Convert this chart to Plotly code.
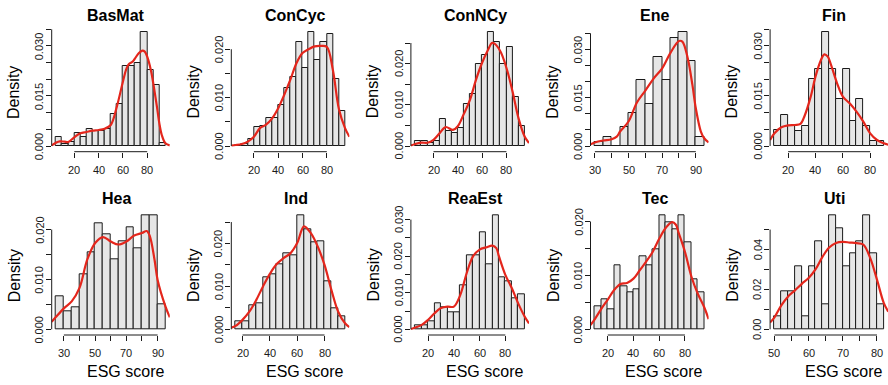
import plotly.graph_objects as go

W, H = 888, 385
FONT = "Liberation Sans, Arial, Helvetica, sans-serif"

# ---------------- data ----------------
names = ["BasMat", "ConCyc", "ConNCy", "Ene", "Fin", "Hea", "Ind", "ReaEst", "Tec", "Uti"]

# BasMat
basmat_start, basmat_width = 5, 5
basmat_density = [0.0026, 0.0006, 0.0011, 0.0040, 0.0026, 0.0050, 0.0045, 0.0045, 0.0051,
                  0.0096, 0.0126, 0.0239, 0.0241, 0.0249, 0.0341, 0.0228, 0.0182, 0.0010]
basmat_kx = [1.4, 5, 8, 12, 15, 20, 25, 30, 35, 40, 45, 50, 55, 60, 63, 65, 68, 70, 73, 76, 78, 80, 83, 85, 88, 90, 92, 95, 98.6]
basmat_ky = [0.0002, 0.0010, 0.0014, 0.0013, 0.0012, 0.0026, 0.0038, 0.0042, 0.0046, 0.0048, 0.0052,
             0.0063, 0.0118, 0.0193, 0.0233, 0.0246, 0.0253, 0.0263, 0.0278, 0.0286, 0.0283, 0.0268,
             0.0228, 0.0188, 0.0118, 0.0068, 0.0033, 0.0008, 0.0002]
basmat_xticks = [20, 40, 60, 80]
basmat_xlabels = ["20", "40", "60", "80"]
basmat_yticks = [0, 0.005, 0.010, 0.015, 0.020, 0.025, 0.030, 0.035]
basmat_ylabels = ["0.000", "", "", "0.015", "", "", "0.030", ""]

# ConCyc
concyc_start, concyc_width = 5, 5
concyc_density = [0.0003, 0.0005, 0.0015, 0.0039, 0.0042, 0.0058, 0.0058, 0.0085, 0.0119,
                  0.0142, 0.0215, 0.0161, 0.0235, 0.0177, 0.0215, 0.0231, 0.0138, 0.0073]
concyc_kx = [1.4, 5, 10, 15, 20, 25, 30, 35, 40, 45, 50, 55, 60, 65, 70, 75, 80, 85, 90, 95, 98.6]
concyc_ky = [0.0001, 0.0002, 0.0004, 0.0009, 0.0019, 0.0037, 0.0044, 0.0057, 0.0078, 0.0106, 0.0137,
             0.0171, 0.0192, 0.0200, 0.0206, 0.0207, 0.0205, 0.0157, 0.0076, 0.0037, 0.0019]
concyc_xticks = [20, 40, 60, 80]
concyc_xlabels = ["20", "40", "60", "80"]
concyc_yticks = [0, 0.005, 0.010, 0.015, 0.020]
concyc_ylabels = ["0.000", "", "0.010", "", "0.020"]

# ConNCy
concny_start, concny_width = 5, 5
concny_density = [0.0011, 0.0011, 0.0008, 0.0011, 0.0066, 0.0037, 0.0031, 0.0043, 0.0102,
                  0.0126, 0.0198, 0.0222, 0.0276, 0.0253, 0.0198, 0.0240, 0.0120, 0.0049]
concny_kx = [1.4, 5, 10, 15, 20, 25, 30, 36, 40, 45, 50, 55, 60, 65, 68, 70, 75, 80, 85, 90, 95, 98.6]
concny_ky = [0.0001, 0.0005, 0.0008, 0.0008, 0.0015, 0.0031, 0.0046, 0.0039, 0.0048, 0.0078, 0.0112,
             0.0161, 0.0202, 0.0234, 0.0250, 0.0249, 0.0230, 0.0190, 0.0133, 0.0067, 0.0023, 0.0007]
concny_xticks = [20, 40, 60, 80]
concny_xlabels = ["20", "40", "60", "80"]
concny_yticks = [0, 0.005, 0.010, 0.015, 0.020, 0.025]
concny_ylabels = ["0.000", "", "0.010", "", "0.020", ""]

# Ene
ene_start, ene_width = 30, 5
ene_density = [0.0013, 0.0029, 0.0, 0.0058, 0.0101, 0.0205, 0.0131, 0.0277, 0.0205,
               0.0336, 0.0353, 0.0263, 0.0029]
ene_kx = [27.4, 30, 35, 40, 43, 45, 50, 55, 60, 65, 70, 75, 80, 82, 85, 88, 90, 93, 95, 97.6]
ene_ky = [0.0005, 0.0011, 0.0017, 0.0021, 0.0029, 0.0045, 0.0076, 0.0135, 0.0172, 0.0210, 0.0241,
          0.0290, 0.0326, 0.0324, 0.0277, 0.0189, 0.0117, 0.0045, 0.0024, 0.0011]
ene_xticks = [30, 40, 50, 60, 70, 80, 90]
ene_xlabels = ["30", "", "50", "", "70", "", "90"]
ene_yticks = [0, 0.005, 0.010, 0.015, 0.020, 0.025, 0.030, 0.035]
ene_ylabels = ["0.000", "", "", "0.015", "", "", "0.030", ""]

# Fin
fin_start, fin_width = 10, 5
fin_density = [0.0048, 0.0093, 0.0060, 0.0046, 0.0061, 0.0200, 0.0231, 0.0341, 0.0231,
               0.0141, 0.0231, 0.0076, 0.0140, 0.0061, 0.0015, 0.0016]
fin_kx = [6.8, 10, 15, 20, 25, 29, 32, 36.5, 40, 44, 46.5, 49, 51, 55.8, 60, 65, 70, 75, 80, 85, 90, 93.2]
fin_ky = [0.0018, 0.0038, 0.0056, 0.0062, 0.0063, 0.0066, 0.0090, 0.0148, 0.0208, 0.0258, 0.0275,
          0.0268, 0.0248, 0.0188, 0.0148, 0.0128, 0.0103, 0.0073, 0.0038, 0.0018, 0.0008, 0.0004]
fin_xticks = [20, 40, 60, 80]
fin_xlabels = ["20", "40", "60", "80"]
fin_yticks = [0, 0.005, 0.010, 0.015, 0.020, 0.025, 0.030, 0.035]
fin_ylabels = ["0.000", "", "", "0.015", "", "", "0.030", ""]

# Hea
hea_start, hea_width = 25, 5
hea_density = [0.0067, 0.0037, 0.0045, 0.0111, 0.0155, 0.0213, 0.0191, 0.0140, 0.0177,
               0.0205, 0.0162, 0.0228, 0.0228, 0.0051]
hea_kx = [22.2, 25, 30, 35, 40, 45, 50, 55, 60, 65, 70, 75, 80, 83, 85, 88, 90, 95, 97.8]
hea_ky = [0.0015, 0.0025, 0.0042, 0.0056, 0.0083, 0.0140, 0.0173, 0.0185, 0.0176, 0.0170, 0.0176,
          0.0188, 0.0193, 0.0197, 0.0187, 0.0140, 0.0099, 0.0046, 0.0024]
hea_xticks = [30, 40, 50, 60, 70, 80, 90]
hea_xlabels = ["30", "", "50", "", "70", "", "90"]
hea_yticks = [0, 0.005, 0.010, 0.015, 0.020]
hea_ylabels = ["0.000", "", "0.010", "", "0.020"]

# Ind
ind_start, ind_width = 15, 5
ind_density = [0.0019, 0.0019, 0.0056, 0.0060, 0.0121, 0.0128, 0.0152, 0.0176, 0.0173,
               0.0265, 0.0234, 0.0202, 0.0205, 0.0111, 0.0050, 0.0030]
ind_kx = [11.8, 15, 20, 25, 30, 35, 40, 45, 50, 55, 60, 65, 70, 75, 80, 85, 90, 95, 98.2]
ind_ky = [0.0004, 0.0008, 0.0022, 0.0041, 0.0068, 0.0100, 0.0129, 0.0152, 0.0166, 0.0177, 0.0201,
          0.0240, 0.0224, 0.0193, 0.0150, 0.0092, 0.0041, 0.0014, 0.0005]
ind_xticks = [20, 40, 60, 80]
ind_xlabels = ["20", "40", "60", "80"]
ind_yticks = [0, 0.005, 0.010, 0.015, 0.020, 0.025]
ind_ylabels = ["0.000", "", "0.010", "", "0.020", ""]

# ReaEst
reaest_start, reaest_width = 10, 5
reaest_density = [0.0010, 0.0010, 0.0021, 0.0071, 0.0059, 0.0047, 0.0047, 0.0119, 0.0203,
                  0.0203, 0.0264, 0.0179, 0.0311, 0.0143, 0.0132, 0.0084, 0.0096]
reaest_kx = [6.6, 10, 15, 20, 25, 30, 35, 40, 45, 50, 55, 60, 65, 70, 73, 75, 80, 85, 90, 95, 98.4]
reaest_ky = [0.0001, 0.0005, 0.0012, 0.0026, 0.0044, 0.0058, 0.0062, 0.0062, 0.0094, 0.0154, 0.0200,
             0.0218, 0.0224, 0.0229, 0.0222, 0.0200, 0.0149, 0.0113, 0.0071, 0.0035, 0.0016]
reaest_xticks = [20, 40, 60, 80]
reaest_xlabels = ["20", "40", "60", "80"]
reaest_yticks = [0, 0.005, 0.010, 0.015, 0.020, 0.025, 0.030]
reaest_ylabels = ["0.000", "", "0.010", "", "0.020", "", "0.030"]

# Tec
tec_start, tec_width = 10, 5
tec_density = [0.0043, 0.0055, 0.0037, 0.0118, 0.0079, 0.0068, 0.0074, 0.0136, 0.0118,
               0.0149, 0.0211, 0.0199, 0.0186, 0.0211, 0.0161, 0.0093, 0.0068]
tec_kx = [6.6, 10, 15, 20, 25, 30, 35, 40, 45, 50, 55, 60, 65, 70, 73, 75, 80, 85, 90, 95, 98.4]
tec_ky = [0.0008, 0.0019, 0.0038, 0.0055, 0.0073, 0.0084, 0.0086, 0.0094, 0.0110, 0.0126, 0.0144,
          0.0168, 0.0188, 0.0199, 0.0194, 0.0180, 0.0144, 0.0098, 0.0066, 0.0041, 0.0019]
tec_xticks = [20, 40, 60, 80]
tec_xlabels = ["20", "40", "60", "80"]
tec_yticks = [0, 0.005, 0.010, 0.015, 0.020]
tec_ylabels = ["0.000", "", "0.010", "", "0.020"]

# Uti
uti_start, uti_width = 50, 2
uti_density = [0.0063, 0.0190, 0.0190, 0.0316, 0.0063, 0.0316, 0.0443, 0.0127, 0.0570,
               0.0506, 0.0316, 0.0380, 0.0443, 0.0570, 0.0380, 0.0127]
uti_kx = [48.7, 50, 52, 54, 56, 58, 60, 62, 64, 66, 68, 70, 72, 74, 76, 78, 80, 82, 83.3]
uti_ky = [0.0034, 0.0060, 0.0120, 0.0165, 0.0195, 0.0228, 0.0257, 0.0300, 0.0362, 0.0410, 0.0433,
          0.0438, 0.0435, 0.0432, 0.0425, 0.0358, 0.0249, 0.0131, 0.0089]
uti_xticks = [50, 55, 60, 65, 70, 75, 80]
uti_xlabels = ["50", "", "60", "", "70", "", "80"]
uti_yticks = [0, 0.01, 0.02, 0.03, 0.04, 0.05]
uti_ylabels = ["0.00", "", "0.02", "", "0.04", ""]

panels = [
    (basmat_start, basmat_width, basmat_density, basmat_kx, basmat_ky, basmat_xticks, basmat_xlabels, basmat_yticks, basmat_ylabels),
    (concyc_start, concyc_width, concyc_density, concyc_kx, concyc_ky, concyc_xticks, concyc_xlabels, concyc_yticks, concyc_ylabels),
    (concny_start, concny_width, concny_density, concny_kx, concny_ky, concny_xticks, concny_xlabels, concny_yticks, concny_ylabels),
    (ene_start, ene_width, ene_density, ene_kx, ene_ky, ene_xticks, ene_xlabels, ene_yticks, ene_ylabels),
    (fin_start, fin_width, fin_density, fin_kx, fin_ky, fin_xticks, fin_xlabels, fin_yticks, fin_ylabels),
    (hea_start, hea_width, hea_density, hea_kx, hea_ky, hea_xticks, hea_xlabels, hea_yticks, hea_ylabels),
    (ind_start, ind_width, ind_density, ind_kx, ind_ky, ind_xticks, ind_xlabels, ind_yticks, ind_ylabels),
    (reaest_start, reaest_width, reaest_density, reaest_kx, reaest_ky, reaest_xticks, reaest_xlabels, reaest_yticks, reaest_ylabels),
    (tec_start, tec_width, tec_density, tec_kx, tec_ky, tec_xticks, tec_xlabels, tec_yticks, tec_ylabels),
    (uti_start, uti_width, uti_density, uti_kx, uti_ky, uti_xticks, uti_xlabels, uti_yticks, uti_ylabels),
]

# ---------------- layout constants (pixels) ----------------
COL_STEP = 179.6
PLOT_L, PLOT_R = 51.7, 169.8
ROW_OFF = [0.0, 183.3]
AXIS_B, ZERO_Y, BAR_TOP = 151.7, 146.0, 32.3
PLOT_T = -2.0

BAR_FILL = "#e6e6e6"
EDGE = "#1a1a1a"
RED = "#e4261c"
TEXT = "#1a1a1a"

def px(x):
    return x / W

def py(y):
    return 1 - y / H

fig = go.Figure()
layout = dict(width=W, height=H, margin=dict(l=0, r=0, t=0, b=0),
              paper_bgcolor="white", plot_bgcolor="white", showlegend=False)
shapes, annots = [], []

for i, (start, bw, dens, kx, ky, xt, xl, yt, yl) in enumerate(panels):
    r, c = divmod(i, 5)
    off = ROW_OFF[r]
    O = c * COL_STEP
    L, R = O + PLOT_L, min(O + PLOT_R, W)
    B, Z, T = off + AXIS_B, off + ZERO_Y, max(off + PLOT_T, 0)
    n = len(dens)
    lo, hi = start, start + n * bw
    pad = 0.04 * (hi - lo)
    xr = [lo - pad, hi + pad]
    # scale R-like: tallest bar at fixed pixel
    M = max(dens)
    s = (ZERO_Y - BAR_TOP) / M
    yr = [-(B - Z) / s, (Z - T) / s]
    # adjust x range for clipped right edge
    full_w = PLOT_R - PLOT_L
    if R < O + PLOT_R:
        xr = [xr[0], xr[0] + (xr[1] - xr[0]) * (R - L) / full_w]

    sfx = "" if i == 0 else str(i + 1)
    centers = [start + (k + 0.5) * bw for k in range(n)]
    fig.add_trace(go.Bar(x=centers, y=dens, width=[bw] * n,
                         marker=dict(color=BAR_FILL, line=dict(color=EDGE, width=1)),
                         xaxis="x" + sfx, yaxis="y" + sfx, hoverinfo="skip"))
    fig.add_trace(go.Scatter(x=kx, y=ky, mode="lines",
                             line=dict(color=RED, width=2.2, shape="spline", smoothing=1.0),
                             xaxis="x" + sfx, yaxis="y" + sfx, hoverinfo="skip"))

    layout["xaxis" + sfx] = dict(domain=[px(L), px(R)], range=xr, anchor="y" + sfx,
                                 showgrid=False, zeroline=False, showline=False,
                                 tickvals=xt, ticks="outside", ticklen=5, tickwidth=1,
                                 tickcolor=EDGE, showticklabels=False, fixedrange=True)
    layout["yaxis" + sfx] = dict(domain=[py(B), py(T)], range=yr, anchor="x" + sfx,
                                 showgrid=False, zeroline=False, showline=False,
                                 tickvals=yt, ticks="outside", ticklen=5, tickwidth=1,
                                 tickcolor=EDGE, showticklabels=False, fixedrange=True)

    # R-style axis lines spanning first..last tick
    shapes.append(dict(type="line", xref="x" + sfx, yref="paper", x0=xt[0], x1=xt[-1],
                       y0=py(B), y1=py(B), line=dict(color=EDGE, width=1)))
    shapes.append(dict(type="line", xref="paper", yref="y" + sfx, x0=px(L), x1=px(L),
                       y0=yt[0], y1=yt[-1], line=dict(color=EDGE, width=1)))

    # tick labels
    for v, lab in zip(xt, xl):
        if lab:
            annots.append(dict(x=v, y=py(off + 170), xref="x" + sfx, yref="paper",
                               text=lab, showarrow=False, xanchor="center", yanchor="middle",
                               font=dict(family=FONT, size=11, color=TEXT)))
    for v, lab in zip(yt, yl):
        if lab:
            annots.append(dict(x=px(O + 39.3), y=v, xref="paper", yref="y" + sfx,
                               text=lab, showarrow=False, textangle=-90,
                               xanchor="center", yanchor="middle",
                               font=dict(family=FONT, size=11, color=TEXT)))
    # title
    annots.append(dict(x=px(O + 116), y=py(off + 15), xref="paper", yref="paper",
                       text="<b>" + names[i] + "</b>", showarrow=False,
                       xanchor="center", yanchor="middle",
                       font=dict(family=FONT, size=16, color="black")))
    # y label
    annots.append(dict(x=px(O + 14), y=py(off + 92), xref="paper", yref="paper",
                       text="Density", showarrow=False, textangle=-90,
                       xanchor="center", yanchor="middle",
                       font=dict(family=FONT, size=16, color="black")))
    if r == 1:
        annots.append(dict(x=px(O + 125), y=py(371.7), xref="paper", yref="paper",
                           text="ESG score", showarrow=False,
                           xanchor="center", yanchor="middle",
                           font=dict(family=FONT, size=16, color="black")))

layout["shapes"] = shapes
layout["annotations"] = annots
layout["bargap"] = 0
fig.update_layout(**layout)
fig.write_html("out.html")
